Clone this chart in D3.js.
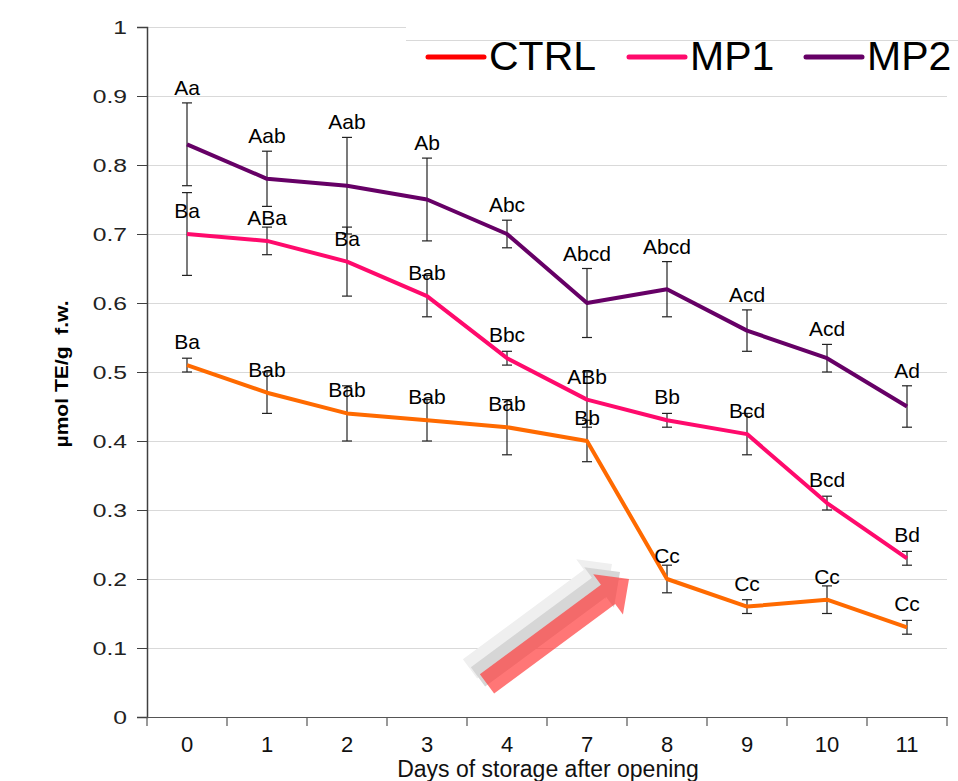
<!DOCTYPE html>
<html>
<head>
<meta charset="utf-8">
<script src="https://cdn.jsdelivr.net/npm/d3@7"></script>
<style>
  html, body { margin: 0; padding: 0; background: #fff; }
  svg { display: block; }
</style>
</head>
<body>
<svg id="chart" width="958" height="781"></svg>
<script>
// ---- data ----
const days = ["0", "1", "2", "3", "4", "7", "8", "9", "10", "11"];
const yTicks = [0, 0.1, 0.2, 0.3, 0.4, 0.5, 0.6, 0.7, 0.8, 0.9, 1];

const ctrlValues = [0.51, 0.47, 0.44, 0.43, 0.42, 0.40, 0.20, 0.16, 0.17, 0.13];
const ctrlErrors = [0.01, 0.03, 0.04, 0.03, 0.04, 0.03, 0.02, 0.01, 0.02, 0.01];
const ctrlLabels = ["Ba", "Bab", "Bab", "Bab", "Bab", "Bb", "Cc", "Cc", "Cc", "Cc"];

const mp1Values = [0.70, 0.69, 0.66, 0.61, 0.52, 0.46, 0.43, 0.41, 0.31, 0.23];
const mp1Errors = [0.06, 0.02, 0.05, 0.03, 0.01, 0.04, 0.01, 0.03, 0.01, 0.01];
const mp1Labels = ["Ba", "ABa", "Ba", "Bab", "Bbc", "ABb", "Bb", "Bcd", "Bcd", "Bd"];

const mp2Values = [0.83, 0.78, 0.77, 0.75, 0.70, 0.60, 0.62, 0.56, 0.52, 0.45];
const mp2Errors = [0.06, 0.04, 0.07, 0.06, 0.02, 0.05, 0.04, 0.03, 0.02, 0.03];
const mp2Labels = ["Aa", "Aab", "Aab", "Ab", "Abc", "Abcd", "Abcd", "Acd", "Acd", "Ad"];

const seriesNames = ["CTRL", "MP1", "MP2"];

// ---- layout ----
const svg = d3.select("#chart");
const pLeft = 147, pRight = 947, pTop = 27, pBottom = 717;

const x = d3.scaleBand().domain(days).range([pLeft, pRight]).padding(0);
const y = d3.scaleLinear().domain([0, 1]).range([pBottom, pTop]);
const cx = d => x(d) + x.bandwidth() / 2;

const series = [
  { name: "CTRL", values: ctrlValues, errors: ctrlErrors, labels: ctrlLabels, color: "#ff6a00", legendColor: "#ff0000", labelMode: "point" },
  { name: "MP1", values: mp1Values, errors: mp1Errors, labels: mp1Labels, color: "#ff0a6c", legendColor: "#ff0a6c", labelMode: "point" },
  { name: "MP2", values: mp2Values, errors: mp2Errors, labels: mp2Labels, color: "#660066", legendColor: "#660066", labelMode: "error" }
];

// gridlines
svg.append("g").selectAll("line").data(yTicks.filter(t => t > 0)).join("line")
  .attr("x1", pLeft).attr("x2", pRight)
  .attr("y1", d => y(d) + 0.5).attr("y2", d => y(d) + 0.5)
  .attr("stroke", "#d9d9d9").attr("stroke-width", 1);

// legend box (covers the top gridline on the right)
svg.append("rect").attr("x", 406).attr("y", 18).attr("width", 552).attr("height", 66).attr("fill", "#fff");
svg.append("line").attr("x1", 406).attr("x2", 958).attr("y1", 40.5).attr("y2", 40.5)
  .attr("stroke", "#d9d9d9").attr("stroke-width", 1);

// arrow annotation
function arrowPath(tx, ty, ax, ay, hw, headW, headL) {
  const dx = ax - tx, dy = ay - ty, len = Math.hypot(dx, dy);
  const ux = dx / len, uy = dy / len, px = -uy, py = ux;
  const pt = (a, b) => [tx + ux * a + px * b, ty + uy * a + py * b];
  const L = len;
  const pts = [pt(0, -hw), pt(L - headL, -hw), pt(L - headL, -headW), pt(L, 0),
               pt(L - headL, headW), pt(L - headL, hw), pt(0, hw)];
  return "M" + pts.map(p => p.join(",")).join("L") + "Z";
}
const arrowTail = [cx("4") - 20, y(0.048)];
const arrowTip = [cx("8") - 38, y(0.2)];
const arrowLayers = [
  { dx: -17, dy: -15, fill: "#efefef", op: 1 },
  { dx: -9, dy: -7, fill: "#d6d6d6", op: 1 },
  { dx: 0, dy: 0, fill: "#ff3c3c", op: 0.7 }
];
const ag = svg.append("g");
arrowLayers.forEach(l => {
  ag.append("path")
    .attr("d", arrowPath(arrowTail[0] + l.dx, arrowTail[1] + l.dy, arrowTip[0] + l.dx, arrowTip[1] + l.dy, 12, 25, 26))
    .attr("fill", l.fill).attr("fill-opacity", l.op);
});

// y axis
const yAxis = svg.append("g").attr("transform", `translate(${pLeft},0)`)
  .call(d3.axisLeft(y).tickValues(yTicks).tickSize(10).tickPadding(10).tickFormat(d => d === 0 ? "0" : d === 1 ? "1" : d3.format(".1f")(d)));
yAxis.select(".domain").attr("stroke", "#404040").attr("stroke-width", 1.5);
yAxis.selectAll(".tick line").attr("stroke", "#404040");
yAxis.selectAll(".tick text")
  .attr("font-family", "'Liberation Sans', Arial, sans-serif")
  .attr("font-size", 19).attr("fill", "#222")
  .attr("dy", "0.36em")
  .attr("transform", function() { const xx = +d3.select(this).attr("x"); return `translate(${xx},0) scale(1.3,1) translate(${-xx},0)`; });

// x axis
const xAxis = svg.append("g").attr("transform", `translate(0,${pBottom})`)
  .call(d3.axisBottom(x).tickSize(0).tickPadding(0).tickFormat(d => d));
xAxis.select(".domain").attr("stroke", "#555").attr("stroke-width", 1.2);
xAxis.selectAll(".tick text").attr("font-family", "'Liberation Sans Narrow', 'Arial Narrow', sans-serif")
  .attr("font-size", 22).attr("fill", "#111").attr("y", 35).attr("dy", 0);
svg.append("g").selectAll("line").data(d3.range(days.length + 1)).join("line")
  .attr("x1", i => pLeft + i * x.bandwidth()).attr("x2", i => pLeft + i * x.bandwidth())
  .attr("y1", pBottom).attr("y2", pBottom + 9).attr("stroke", "#555").attr("stroke-width", 1.2);

// axis titles
svg.append("text").attr("x", 548).attr("y", 777).attr("text-anchor", "middle")
  .attr("font-family", "'Liberation Sans', Arial, sans-serif").attr("font-size", 23).attr("fill", "#111")
  .text("Days of storage after opening");
svg.append("text").attr("transform", "translate(68,374) rotate(-90)").attr("text-anchor", "middle")
  .attr("font-family", "'Liberation Sans Narrow', 'Arial Narrow', sans-serif").attr("font-weight", "bold")
  .attr("font-size", 19).attr("fill", "#000")
  .attr("textLength", 147).attr("lengthAdjust", "spacingAndGlyphs")
  .style("white-space", "pre")
  .text("µmol TE/g  f.w.");

// error bars
series.forEach(s => {
  const g = svg.append("g");
  const idx = d3.range(days.length);
  g.selectAll("line.v").data(idx).join("line").attr("class", "v")
    .attr("x1", i => cx(days[i])).attr("x2", i => cx(days[i]))
    .attr("y1", i => y(s.values[i] + s.errors[i])).attr("y2", i => y(s.values[i] - s.errors[i]))
    .attr("stroke", "#222").attr("stroke-width", 1.2);
  [1, -1].forEach((sign, k) => {
    g.selectAll("line.c" + k).data(idx).join("line").attr("class", "c" + k)
      .attr("x1", i => cx(days[i]) - 5).attr("x2", i => cx(days[i]) + 5)
      .attr("y1", i => y(s.values[i] + sign * s.errors[i])).attr("y2", i => y(s.values[i] + sign * s.errors[i]))
      .attr("stroke", "#222").attr("stroke-width", 1.2);
  });
});

// lines
const line = d3.line().x((d, i) => cx(days[i])).y(d => y(d));
series.forEach(s => {
  svg.append("path").datum(s.values).attr("d", line)
    .attr("fill", "none").attr("stroke", s.color).attr("stroke-width", 4).attr("stroke-linejoin", "round");
});

// letter labels
series.forEach(s => {
  svg.append("g").selectAll("text").data(d3.range(days.length)).join("text")
    .attr("x", i => cx(days[i]))
    .attr("y", i => s.labelMode === "point" ? y(s.values[i]) - 16 : y(s.values[i] + s.errors[i]) - 8)
    .attr("text-anchor", "middle")
    .attr("font-family", "'Liberation Sans', Arial, sans-serif").attr("font-size", 21).attr("fill", "#000")
    .text(i => s.labels[i]);
});

// legend
const legendX = [428, 629, 806];
const lg = svg.append("g");
series.forEach((s, k) => {
  lg.append("line").attr("x1", legendX[k]).attr("x2", legendX[k] + 56).attr("y1", 57).attr("y2", 57)
    .attr("stroke", s.legendColor).attr("stroke-width", 5).attr("stroke-linecap", "round");
  lg.append("text").attr("x", legendX[k] + 61).attr("y", 70)
    .attr("font-family", "'Liberation Sans', Arial, sans-serif").attr("font-size", 41).attr("fill", "#000")
    .text(seriesNames[k]);
});
</script>
</body>
</html>
